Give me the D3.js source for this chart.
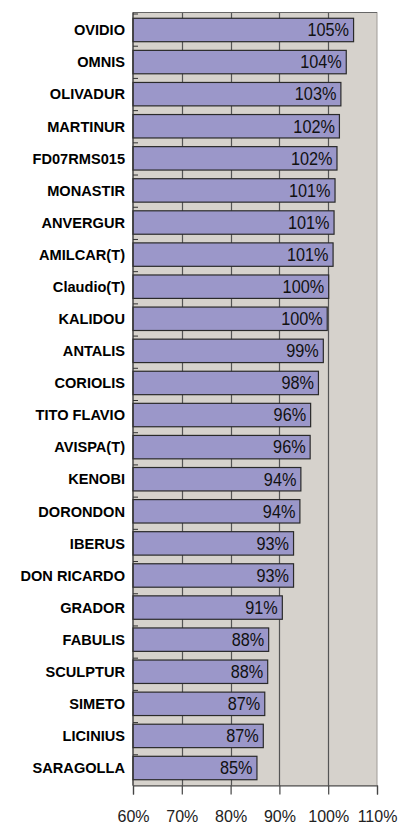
<!DOCTYPE html>
<html>
<head>
<meta charset="utf-8">
<script src="https://cdn.jsdelivr.net/npm/d3@7"></script>
<style>
    body { margin: 0; background: #fff; }
    svg { display: block; font-family: "Liberation Sans", Arial, sans-serif; }
    .cat-label { font-size: 14.6px; font-weight: bold; fill: #000; }
    .val-label { font-size: 17.5px; fill: #111; }
    .axis--x text { font-size: 16px; fill: #222; }
</style>
</head>
<body>
<svg id="chart"></svg>
<script>
(function (d3) {
    'use strict';

    var categories = ['OVIDIO', 'OMNIS', 'OLIVADUR', 'MARTINUR', 'FD07RMS015', 'MONASTIR',
        'ANVERGUR', 'AMILCAR(T)', 'Claudio(T)', 'KALIDOU', 'ANTALIS', 'CORIOLIS',
        'TITO FLAVIO', 'AVISPA(T)', 'KENOBI', 'DORONDON', 'IBERUS', 'DON RICARDO',
        'GRADOR', 'FABULIS', 'SCULPTUR', 'SIMETO', 'LICINIUS', 'SARAGOLLA'];

    var values = [105.2, 103.7, 102.6, 102.3, 101.8, 101.4,
        101.2, 101.0, 100.1, 99.8, 99.0, 98.0,
        96.4, 96.3, 94.4, 94.2, 92.9, 92.9,
        90.6, 87.8, 87.6, 87.0, 86.7, 85.4];

    var xTicks = [60, 70, 80, 90, 100, 110];

    var width = 411,
        height = 830,
        margin = { top: 12.5, right: 34, bottom: 44.5, left: 133 };

    var x = d3.scaleLinear().domain([60, 110]).range([margin.left, width - margin.right]),
        y = d3.scaleBand().domain(categories)
            .range([margin.top, height - margin.bottom])
            .paddingInner(0.27)
            .paddingOuter(0.18);

    var data = categories.map(function (c, i) { return { name: c, value: values[i] }; });

    var svg = d3.select('#chart')
        .attr('width', width)
        .attr('height', height);

    var plotTop = margin.top,
        plotBottom = height - margin.bottom;

    // plot area
    svg.append('rect')
        .attr('x', x(60))
        .attr('y', plotTop)
        .attr('width', x(110) - x(60))
        .attr('height', plotBottom - plotTop)
        .attr('fill', '#d6d2cc')
        .attr('stroke', '#a09c98')
        .attr('stroke-width', 1);

    // vertical gridlines
    svg.append('g')
        .selectAll('line')
        .data(xTicks.slice(1, -1))
        .enter()
        .append('line')
        .attr('x1', function (d) { return Math.round(x(d)) + 0.5; })
        .attr('x2', function (d) { return Math.round(x(d)) + 0.5; })
        .attr('y1', plotTop)
        .attr('y2', plotBottom)
        .attr('stroke', '#555')
        .attr('stroke-width', 1.2);

    // top border
    svg.append('line')
        .attr('x1', x(60)).attr('x2', x(110))
        .attr('y1', plotTop).attr('y2', plotTop)
        .attr('stroke', '#666');

    // bars
    svg.selectAll('.bar')
        .data(data)
        .enter()
        .append('rect')
        .attr('class', 'bar')
        .attr('x', x(60))
        .attr('y', function (d) { return y(d.name); })
        .attr('width', function (d) { return x(d.value) - x(60); })
        .attr('height', y.bandwidth())
        .attr('fill', '#9b97c9')
        .attr('stroke', '#2a2a2a')
        .attr('stroke-width', 1.2);

    // value labels (narrow, tall like the original)
    svg.selectAll('.val-label')
        .data(data)
        .enter()
        .append('text')
        .attr('class', 'val-label')
        .attr('transform', function (d) {
            return 'translate(' + (x(d.value) - 4.5) + ',' + (y(d.name) + y.bandwidth() / 2) + ') scale(0.93,1)';
        })
        .attr('dy', '0.36em')
        .attr('text-anchor', 'end')
        .text(function (d) { return Math.round(d.value) + '%'; });

    // category labels
    svg.selectAll('.cat-label')
        .data(data)
        .enter()
        .append('text')
        .attr('class', 'cat-label')
        .attr('x', margin.left - 8)
        .attr('y', function (d) { return y(d.name) + y.bandwidth() / 2; })
        .attr('dy', '0.36em')
        .attr('text-anchor', 'end')
        .text(function (d) { return d.name; });

    // left axis with ticks at category boundaries
    var step = (plotBottom - plotTop) / categories.length;
    svg.append('line')
        .attr('x1', x(60)).attr('x2', x(60))
        .attr('y1', plotTop).attr('y2', plotBottom)
        .attr('stroke', '#333')
        .attr('stroke-width', 1.2);

    svg.append('g')
        .selectAll('line')
        .data(d3.range(categories.length))
        .enter()
        .append('line')
        .attr('x1', x(60))
        .attr('x2', x(60) + 5)
        .attr('y1', function (i) { return plotTop + i * step + 1.5; })
        .attr('y2', function (i) { return plotTop + i * step + 1.5; })
        .attr('stroke', '#333');

    // bottom axis
    var xAxis = svg.append('g')
        .attr('class', 'axis axis--x')
        .attr('transform', 'translate(0,' + plotBottom + ')')
        .call(d3.axisBottom(x).tickValues(xTicks).tickSize(9).tickPadding(16)
            .tickFormat(function (d) { return d + '%'; }));

    xAxis.select('.domain').attr('stroke', '#444').attr('stroke-width', 1.2);
    xAxis.selectAll('.tick line').attr('stroke', '#444').attr('stroke-width', 1.2);
    xAxis.selectAll('text').attr('fill', '#222');

})(window.d3);
</script>
</body>
</html>
